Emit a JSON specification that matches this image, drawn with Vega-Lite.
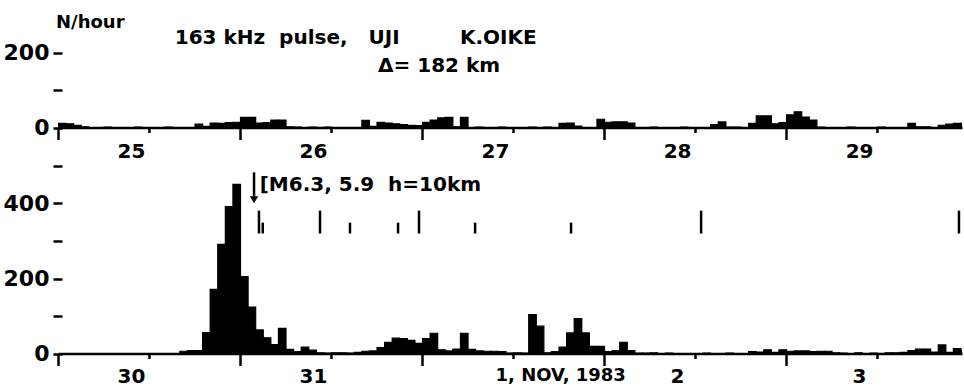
{
 "$schema": "https://vega.github.io/schema/vega-lite/v6.json",
 "background": "white",
 "padding": {"left": 3, "top": 0, "right": 0, "bottom": 0},
 "config": {"view": {"stroke": null}, "axis": {"grid": false, "labelFont": "DejaVu Sans", "labelFontWeight": "bold", "labelColor": "black", "tickColor": "black", "domainColor": "black"}},
 "datasets": {
  "top": [
   {"h":0,"n":11},{"h":1,"n":10},{"h":2,"n":6},{"h":3,"n":2},{"h":6,"n":1},{"h":10,"n":1},{"h":14,"n":1},
   {"h":18,"n":9},{"h":19,"n":3},{"h":20,"n":12},{"h":21,"n":11},{"h":22,"n":13},{"h":23,"n":14},{"h":24,"n":27},{"h":25,"n":27},
   {"h":26,"n":12},{"h":27,"n":13},{"h":28,"n":20},{"h":29,"n":20},{"h":30,"n":2},{"h":31,"n":1},{"h":33,"n":1},{"h":35,"n":1},
   {"h":40,"n":19},{"h":41,"n":3},{"h":42,"n":14},{"h":43,"n":12},{"h":44,"n":10},{"h":45,"n":8},{"h":46,"n":6},{"h":47,"n":5},
   {"h":48,"n":14},{"h":49,"n":20},{"h":50,"n":26},{"h":51,"n":27},{"h":52,"n":2},{"h":53,"n":27},{"h":55,"n":1},{"h":58,"n":1},
   {"h":62,"n":1},{"h":64,"n":1},{"h":66,"n":11},{"h":67,"n":12},{"h":68,"n":4},{"h":71,"n":22},{"h":72,"n":14},{"h":73,"n":15},
   {"h":74,"n":15},{"h":75,"n":12},{"h":78,"n":1},{"h":82,"n":1},{"h":86,"n":8},{"h":87,"n":15},{"h":88,"n":1},{"h":89,"n":1},
   {"h":91,"n":11},{"h":92,"n":31},{"h":93,"n":31},{"h":94,"n":10},{"h":95,"n":13},{"h":96,"n":34},{"h":97,"n":42},{"h":98,"n":28},
   {"h":99,"n":20},{"h":100,"n":1},{"h":104,"n":1},{"h":108,"n":1},{"h":112,"n":11},{"h":113,"n":2},{"h":114,"n":2},{"h":116,"n":6},
   {"h":117,"n":9},{"h":118,"n":11},{"h":119,"n":11}
  ],
  "bot": [
   {"h":16,"n":6},{"h":17,"n":8},{"h":18,"n":8},{"h":19,"n":56},{"h":20,"n":171},{"h":21,"n":291},{"h":22,"n":392},{"h":23,"n":451},
   {"h":24,"n":205},{"h":25,"n":124},{"h":26,"n":63},{"h":27,"n":42},{"h":28,"n":24},{"h":29,"n":67},{"h":30,"n":11},{"h":31,"n":5},
   {"h":32,"n":17},{"h":33,"n":9},{"h":34,"n":2},{"h":35,"n":1},{"h":36,"n":2},{"h":37,"n":2},{"h":38,"n":1},{"h":39,"n":3},
   {"h":40,"n":6},{"h":41,"n":7},{"h":42,"n":16},{"h":43,"n":30},{"h":44,"n":41},{"h":45,"n":40},{"h":46,"n":35},{"h":47,"n":27},
   {"h":48,"n":40},{"h":49,"n":54},{"h":50,"n":10},{"h":51,"n":7},{"h":52,"n":12},{"h":53,"n":54},{"h":54,"n":11},{"h":55,"n":7},
   {"h":56,"n":6},{"h":57,"n":6},{"h":58,"n":5},{"h":59,"n":1},{"h":60,"n":2},{"h":61,"n":1},{"h":62,"n":104},{"h":63,"n":73},
   {"h":64,"n":2},{"h":65,"n":5},{"h":66,"n":17},{"h":67,"n":55},{"h":68,"n":93},{"h":69,"n":55},{"h":70,"n":19},{"h":71,"n":19},
   {"h":72,"n":5},{"h":73,"n":8},{"h":74,"n":30},{"h":75,"n":8},{"h":76,"n":1},{"h":77,"n":1},{"h":78,"n":2},{"h":80,"n":1},
   {"h":85,"n":1},{"h":88,"n":1},{"h":91,"n":5},{"h":92,"n":4},{"h":93,"n":10},{"h":94,"n":3},{"h":95,"n":10},{"h":96,"n":6},
   {"h":97,"n":7},{"h":98,"n":7},{"h":99,"n":5},{"h":100,"n":6},{"h":101,"n":6},{"h":102,"n":2},{"h":103,"n":1},{"h":105,"n":2},
   {"h":107,"n":1},{"h":109,"n":2},{"h":110,"n":2},{"h":111,"n":3},{"h":112,"n":8},{"h":113,"n":12},{"h":114,"n":12},{"h":115,"n":4},
   {"h":116,"n":23},{"h":117,"n":3},{"h":118,"n":13},{"h":119,"n":8}
  ],
  "events": [
   {"h":26.5,"kind":"L"},{"h":27.0,"kind":"S"},{"h":34.55,"kind":"L"},{"h":38.5,"kind":"S"},{"h":44.84,"kind":"S"},
   {"h":47.6,"kind":"L"},{"h":55.0,"kind":"S"},{"h":67.65,"kind":"S"},{"h":84.8,"kind":"L"},{"h":118.8,"kind":"L"}
  ]
 },
 "spacing": 38,
 "bounds": "flush",
 "vconcat": [
  {
   "width": 904,
   "height": 127.5,
   "resolve": {"axis": {"x": "independent", "y": "independent"}},
   "layer": [
    {
     "data": {"name": "top"},
     "mark": {"type": "bar", "color": "black", "binSpacing": 0, "clip": true, "stroke": "black", "strokeWidth": 1.2},
     "encoding": {
      "x": {"field": "h", "type": "quantitative", "bin": {"binned": true, "step": 1},
            "scale": {"domain": [0, 119.2], "nice": false, "zero": false},
            "axis": {"orient": "bottom", "values": [0, 24, 48, 72, 96], "labels": false, "title": null, "tickSize": 12, "tickWidth": 2.5, "domainWidth": 2.5, "grid": false}},
      "y": {"field": "n", "type": "quantitative", "scale": {"domain": [0, 340], "nice": false},
            "axis": {"orient": "left", "values": [0, 100, 200], "labelExpr": "datum.value == 100 ? '' : datum.label", "title": null, "domain": false, "tickSize": 9, "tickWidth": 2.5, "offset": -4, "labelPadding": 4, "labelFontSize": 22, "grid": false}}
     }
    },
    {
     "data": {"name": "top"},
     "mark": {"type": "point", "opacity": 0},
     "encoding": {
      "x": {"field": "h", "type": "quantitative",
            "axis": {"orient": "bottom", "values": [12, 36, 60, 84, 108], "labelExpr": "['25','26','27','28','29'][floor(datum.value/24)]", "title": null, "domain": false, "tickSize": 5, "tickWidth": 2.5, "labelPadding": 9, "labelOffset": -18, "labelFontSize": 20, "grid": false}},
      "y": {"field": "n", "type": "quantitative", "axis": null}
     }
    },
    {
     "data": {"values": [{}]},
     "mark": {"type": "text", "text": "N/hour", "align": "left", "baseline": "middle", "font": "DejaVu Sans", "fontWeight": "bold", "fontSize": 18, "color": "black"},
     "encoding": {"x": {"datum": -0.26, "type": "quantitative", "axis": null}, "y": {"datum": 280, "type": "quantitative", "axis": null}}
    },
    {
     "data": {"values": [{}]},
     "mark": {"type": "text", "text": "163 kHz\u00a0\u00a0pulse,\u00a0\u00a0\u00a0UJI", "align": "left", "baseline": "middle", "font": "DejaVu Sans", "fontWeight": "bold", "fontSize": 20, "color": "black"},
     "encoding": {"x": {"datum": 15.4, "type": "quantitative", "axis": null}, "y": {"datum": 240, "type": "quantitative", "axis": null}}
    },
    {
     "data": {"values": [{}]},
     "mark": {"type": "text", "text": "K.OIKE", "align": "left", "baseline": "middle", "font": "DejaVu Sans", "fontWeight": "bold", "fontSize": 20, "color": "black"},
     "encoding": {"x": {"datum": 53.0, "type": "quantitative", "axis": null}, "y": {"datum": 240, "type": "quantitative", "axis": null}}
    },
    {
     "data": {"values": [{}]},
     "mark": {"type": "text", "text": "Δ= 182 km", "align": "left", "baseline": "middle", "font": "DejaVu Sans", "fontWeight": "bold", "fontSize": 20, "color": "black"},
     "encoding": {"x": {"datum": 42.2, "type": "quantitative", "axis": null}, "y": {"datum": 163, "type": "quantitative", "axis": null}}
    }
   ]
  },
  {
   "width": 904,
   "height": 187.5,
   "resolve": {"axis": {"x": "independent", "y": "independent"}},
   "layer": [
    {
     "data": {"name": "bot"},
     "mark": {"type": "bar", "color": "black", "binSpacing": 0, "clip": true, "stroke": "black", "strokeWidth": 1.2},
     "encoding": {
      "x": {"field": "h", "type": "quantitative", "bin": {"binned": true, "step": 1},
            "scale": {"domain": [0, 119.2], "nice": false, "zero": false},
            "axis": {"orient": "bottom", "values": [0, 24, 48, 72, 96], "labels": false, "title": null, "tickSize": 12, "tickWidth": 2.5, "domainWidth": 2.5, "grid": false}},
      "y": {"field": "n", "type": "quantitative", "scale": {"domain": [0, 500], "nice": false},
            "axis": {"orient": "left", "values": [0, 100, 200, 300, 400, 500], "labelExpr": "datum.value % 200 == 0 ? datum.label : ''", "title": null, "domain": false, "tickSize": 9, "tickWidth": 2.5, "offset": -4, "labelPadding": 4, "labelFontSize": 22, "grid": false}}
     }
    },
    {
     "data": {"name": "bot"},
     "mark": {"type": "point", "opacity": 0},
     "encoding": {
      "x": {"field": "h", "type": "quantitative",
            "axis": {"orient": "bottom", "values": [12, 36, 60, 84, 108], "labelExpr": "['30','31','1, NOV, 1983','2','3'][floor(datum.value/24)]", "labelAlign": {"condition": {"test": "datum.value == 60", "value": "left"}, "value": "center"}, "labelFontSize": {"condition": {"test": "datum.value == 60", "value": 18}, "value": 20}, "title": null, "domain": false, "tickSize": 5, "tickWidth": 2.5, "labelPadding": 8, "labelOffset": -18, "grid": false}},
      "y": {"field": "n", "type": "quantitative", "axis": null}
     }
    },
    {
     "data": {"name": "events"},
     "transform": [{"filter": "datum.kind == 'L'"}],
     "mark": {"type": "rule", "color": "black", "strokeWidth": 2.5},
     "encoding": {"x": {"field": "h", "type": "quantitative", "axis": null}, "y": {"datum": 320, "type": "quantitative", "axis": null}, "y2": {"datum": 381}}
    },
    {
     "data": {"name": "events"},
     "transform": [{"filter": "datum.kind == 'S'"}],
     "mark": {"type": "rule", "color": "black", "strokeWidth": 2.5},
     "encoding": {"x": {"field": "h", "type": "quantitative", "axis": null}, "y": {"datum": 320, "type": "quantitative", "axis": null}, "y2": {"datum": 349}}
    },
    {
     "data": {"values": [{}]},
     "mark": {"type": "rule", "color": "black", "strokeWidth": 2.5},
     "encoding": {"x": {"datum": 25.85, "type": "quantitative", "axis": null}, "y": {"datum": 483, "type": "quantitative", "axis": null}, "y2": {"datum": 415}}
    },
    {
     "data": {"values": [{}]},
     "mark": {"type": "point", "shape": "triangle-down", "filled": true, "color": "black", "opacity": 1, "size": 70},
     "encoding": {"x": {"datum": 25.85, "type": "quantitative", "axis": null}, "y": {"datum": 410, "type": "quantitative", "axis": null}}
    },
    {
     "data": {"values": [{}]},
     "mark": {"type": "text", "text": "[M6.3, 5.9\u00a0\u00a0h=10km", "align": "left", "baseline": "middle", "font": "DejaVu Sans", "fontWeight": "bold", "fontSize": 20, "color": "black"},
     "encoding": {"x": {"datum": 26.6, "type": "quantitative", "axis": null}, "y": {"datum": 449, "type": "quantitative", "axis": null}}
    }
   ]
  }
 ]
}
